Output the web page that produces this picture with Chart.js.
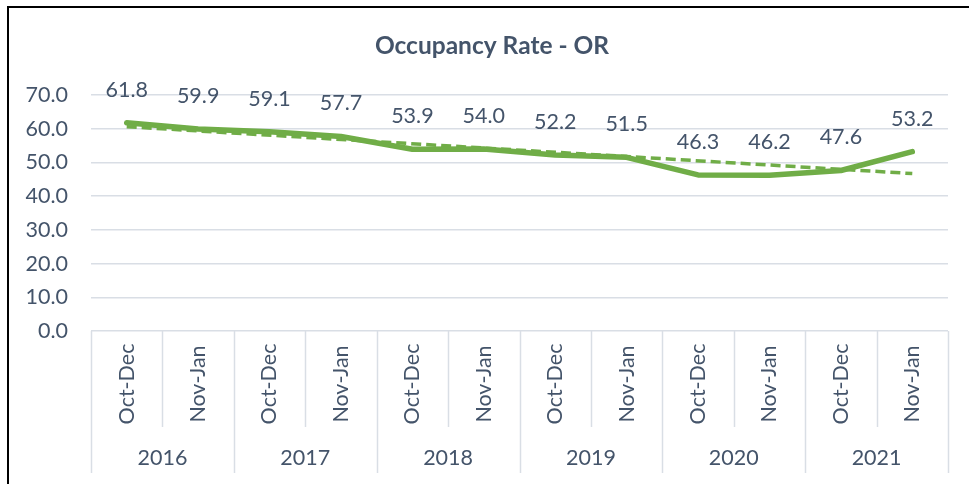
<!DOCTYPE html>
<html>
<head>
<meta charset="utf-8">
<script src="https://cdn.jsdelivr.net/npm/chart.js@4/dist/chart.umd.min.js"></script>
<style>
  html, body { margin: 0; padding: 0; background: #fff; }
  #wrap { position: relative; width: 969px; height: 484px; overflow: hidden; }
  #frame { position: absolute; left: 7px; top: 6px; width: 2000px; height: 2000px;
           border-top: 2px solid #000; border-left: 2px solid #000; }
  canvas { position: absolute; left: 0; top: 0; }
</style>
</head>
<body>
<div id="wrap">
  <div id="frame"></div>
  <canvas id="c" width="969" height="484"></canvas>
</div>
<script>
const chartTitle = 'Occupancy Rate - OR';
const periods = ['Oct-Dec','Nov-Jan','Oct-Dec','Nov-Jan','Oct-Dec','Nov-Jan','Oct-Dec','Nov-Jan','Oct-Dec','Nov-Jan','Oct-Dec','Nov-Jan'];
const years = ['2016','2017','2018','2019','2020','2021'];
const occupancy = [61.8, 59.9, 59.1, 57.7, 53.9, 54.0, 52.2, 51.5, 46.3, 46.2, 47.6, 53.2];
const trendStart = 60.6;
const trendEnd = 46.7;
const yTicks = [0, 10, 20, 30, 40, 50, 60, 70];

const trend = occupancy.map((v, i) => i === 0 ? trendStart : (i === occupancy.length - 1 ? trendEnd : null));

const TEXT = '#44546A';
const GRID = '#D9DEE5';
const GREEN = '#70AD47';
const FONT = 'Lato, "Open Sans", sans-serif';
const FS = 21.5;

const decorPlugin = {
  id: 'decor',
  afterDraw(chart) {
    const ctx = chart.ctx;
    const xs = chart.scales.x;
    const area = chart.chartArea;
    const n = periods.length;
    const step = (area.right - area.left) / n;
    ctx.save();
    // title
    ctx.fillStyle = TEXT;
    ctx.font = 'bold 24.5px ' + FONT;
    ctx.textAlign = 'center';
    ctx.textBaseline = 'middle';
    ctx.fillText(chartTitle, 492, 46);
    // x axis separators
    ctx.strokeStyle = GRID;
    ctx.lineWidth = 1.5;
    for (let k = 0; k <= n; k++) {
      const x = Math.round(area.left + k * step) + 0.5;
      const yEnd = (k % 2 === 0) ? 473 : 427;
      ctx.beginPath();
      ctx.moveTo(x, area.bottom);
      ctx.lineTo(x, yEnd);
      ctx.stroke();
    }
    // period labels (rotated)
    ctx.fillStyle = TEXT;
    ctx.font = FS + 'px ' + FONT;
    for (let i = 0; i < n; i++) {
      const x = xs.getPixelForValue(i);
      ctx.save();
      ctx.translate(x, 384);
      ctx.rotate(-Math.PI / 2);
      ctx.textAlign = 'center';
      ctx.textBaseline = 'middle';
      ctx.fillText(periods[i], 0, 0);
      ctx.restore();
    }
    // year labels
    ctx.textAlign = 'center';
    ctx.textBaseline = 'middle';
    for (let j = 0; j < years.length; j++) {
      const x = (xs.getPixelForValue(2 * j) + xs.getPixelForValue(2 * j + 1)) / 2;
      ctx.fillText(years[j], x, 458);
    }
    // data labels
    const meta = chart.getDatasetMeta(0);
    meta.data.forEach((pt, i) => {
      ctx.fillText(occupancy[i].toFixed(1), pt.x, pt.y - 33);
    });
    ctx.restore();
  }
};

new Chart(document.getElementById('c'), {
  type: 'line',
  data: {
    labels: periods,
    datasets: [
      {
        label: 'Occupancy Rate',
        data: occupancy,
        borderColor: GREEN,
        backgroundColor: GREEN,
        borderWidth: 5.5,
        borderCapStyle: 'round',
        borderJoinStyle: 'round',
        pointRadius: 0,
        tension: 0
      },
      {
        label: 'Trend',
        data: trend,
        borderColor: GREEN,
        borderWidth: 3.5,
        borderDash: [10, 5],
        pointRadius: 0,
        spanGaps: true,
        tension: 0
      }
    ]
  },
  options: {
    responsive: false,
    animation: false,
    devicePixelRatio: 1,
    layout: { padding: { left: 10, right: 21, top: 95, bottom: 0 } },
    plugins: {
      legend: { display: false },
      title: { display: false },
      tooltip: { enabled: false }
    },
    scales: {
      x: {
        type: 'category',
        offset: true,
        grid: { display: false },
        border: { display: false },
        ticks: { display: false },
        afterFit(scale) { scale.height = 153; }
      },
      y: {
        min: 0,
        max: 70,
        afterBuildTicks(scale) { scale.ticks = yTicks.map(v => ({ value: v })); },
        grid: { color: GRID, lineWidth: 1.5, drawTicks: false },
        border: { display: false },
        ticks: {
          padding: 23,
          color: TEXT,
          font: { family: FONT, size: FS },
          callback: (v) => Number(v).toFixed(1)
        },
        afterFit(scale) { scale.width = 81; }
      }
    }
  },
  plugins: [decorPlugin]
});
</script>
</body>
</html>
